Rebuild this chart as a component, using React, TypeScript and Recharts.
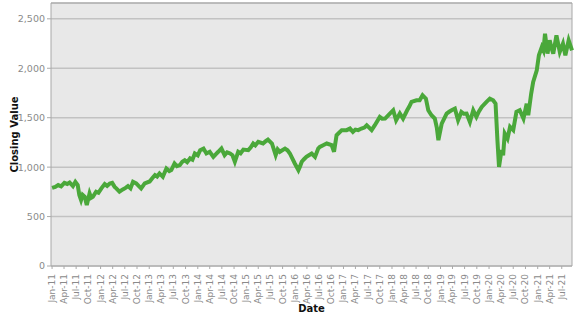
import React from "react"
import { CartesianGrid, Line, LineChart, ReferenceArea, XAxis, YAxis } from "recharts"

// closing values, with their dates
const dates = [
  "2011-01-01", "2011-01-25", "2011-02-16", "2011-03-10", "2011-04-04", "2011-04-25", "2011-05-13", "2011-06-07",
  "2011-06-25", "2011-07-13", "2011-07-25", "2011-08-07", "2011-08-19", "2011-09-04", "2011-09-19", "2011-10-10",
  "2011-10-22", "2011-11-04", "2011-11-28", "2011-12-16", "2012-01-07", "2012-02-01", "2012-02-19", "2012-03-10",
  "2012-03-28", "2012-04-16", "2012-04-28", "2012-05-22", "2012-06-16", "2012-07-07", "2012-07-25", "2012-08-13",
  "2012-09-01", "2012-09-25", "2012-10-13", "2012-11-01", "2012-11-28", "2013-01-04", "2013-01-25", "2013-02-13",
  "2013-03-01", "2013-03-19", "2013-04-13", "2013-05-10", "2013-06-01", "2013-06-16", "2013-07-10", "2013-07-28",
  "2013-08-19", "2013-09-07", "2013-09-25", "2013-10-13", "2013-11-04", "2013-11-22", "2013-12-10", "2014-01-01",
  "2014-01-19", "2014-02-13", "2014-03-07", "2014-04-01", "2014-04-28", "2014-05-16", "2014-06-04", "2014-06-28",
  "2014-07-22", "2014-08-10", "2014-09-01", "2014-09-19", "2014-10-07", "2014-11-01", "2014-11-19", "2014-12-10",
  "2015-01-16", "2015-02-04", "2015-02-22", "2015-03-10", "2015-04-01", "2015-05-07", "2015-05-25", "2015-06-13",
  "2015-07-13", "2015-08-10", "2015-08-25", "2015-09-10", "2015-10-19", "2015-11-07", "2015-11-25", "2015-12-13",
  "2016-01-01", "2016-01-28", "2016-02-10", "2016-02-22", "2016-03-10", "2016-03-28", "2016-04-16", "2016-05-07",
  "2016-06-01", "2016-06-25", "2016-07-07", "2016-08-01", "2016-08-28", "2016-10-04", "2016-10-22", "2016-11-10",
  "2016-12-01", "2016-12-19", "2017-01-25", "2017-02-19", "2017-03-13", "2017-04-01", "2017-04-22", "2017-05-16",
  "2017-06-07", "2017-06-25", "2017-07-13", "2017-08-01", "2017-08-25", "2017-10-01", "2017-10-19", "2017-11-10",
  "2017-12-16", "2018-01-10", "2018-02-01", "2018-03-01", "2018-03-25", "2018-04-25", "2018-05-10", "2018-05-28",
  "2018-07-04", "2018-07-28", "2018-08-19", "2018-09-13", "2018-10-01", "2018-10-25", "2018-11-19", "2018-12-04",
  "2018-12-16", "2019-01-10", "2019-02-16", "2019-03-07", "2019-03-25", "2019-04-19", "2019-05-13", "2019-06-07",
  "2019-06-25", "2019-07-16", "2019-08-10", "2019-09-04", "2019-09-28", "2019-10-16", "2019-11-07", "2019-12-13",
  "2020-01-07", "2020-02-01", "2020-02-19", "2020-03-04", "2020-03-16", "2020-04-04", "2020-04-16", "2020-04-28",
  "2020-05-19", "2020-06-07", "2020-07-01", "2020-07-25", "2020-08-19", "2020-09-16", "2020-10-10", "2020-10-22",
  "2020-11-13", "2020-11-28", "2020-12-25", "2021-01-10", "2021-02-01", "2021-02-13", "2021-02-25", "2021-03-16",
  "2021-04-01", "2021-04-16", "2021-04-28", "2021-05-22", "2021-06-16", "2021-07-10", "2021-07-28", "2021-08-22",
  "2021-09-16",
]

const closing = [
  790, 800, 818, 805, 841, 830, 845, 808,
  851, 818, 717, 667, 720, 700, 616, 734,
  690, 700, 751, 740, 785, 828, 810, 835,
  841, 800, 785, 751, 774, 790, 808, 785,
  851, 835, 810, 785, 835, 855, 890, 919,
  905, 936, 902, 986, 960, 970, 1037, 1010,
  1020, 1055, 1070, 1050, 1088, 1075, 1138, 1120,
  1172, 1188, 1138, 1155, 1104, 1130, 1155, 1188,
  1121, 1150, 1138, 1120, 1054, 1155, 1140, 1178,
  1172, 1200, 1239, 1220, 1256, 1239, 1260, 1279,
  1239, 1121, 1180, 1155, 1188, 1170, 1138, 1088,
  1037, 970, 1010, 1054, 1080, 1104, 1120, 1138,
  1104, 1188, 1205, 1222, 1239, 1222, 1155, 1323,
  1350, 1374, 1374, 1390, 1357, 1380, 1374, 1390,
  1400, 1424, 1400, 1374, 1424, 1508, 1490, 1491,
  1542, 1575, 1474, 1542, 1491, 1575, 1610, 1660,
  1676, 1676, 1727, 1693, 1575, 1525, 1491, 1400,
  1273, 1441, 1542, 1560, 1575, 1592, 1474, 1558,
  1540, 1542, 1457, 1575, 1508, 1560, 1609, 1660,
  1693, 1676, 1642, 1273, 1003, 1172, 1120, 1340,
  1289, 1407, 1374, 1558, 1575, 1491, 1642, 1525,
  1744, 1862, 1980, 2131, 2215, 2180, 2350, 2148,
  2283, 2200, 2148, 2333, 2165, 2249, 2131, 2283,
  2182,
]

const tickLabels = [
  "Jan-11", "Apr-11", "Jul-11", "Oct-11", "Jan-12", "Apr-12", "Jul-12", "Oct-12",
  "Jan-13", "Apr-13", "Jul-13", "Oct-13", "Jan-14", "Apr-14", "Jul-14", "Oct-14",
  "Jan-15", "Apr-15", "Jul-15", "Oct-15", "Jan-16", "Apr-16", "Jul-16", "Oct-16",
  "Jan-17", "Apr-17", "Jul-17", "Oct-17", "Jan-18", "Apr-18", "Jul-18", "Oct-18",
  "Jan-19", "Apr-19", "Jul-19", "Oct-19", "Jan-20", "Apr-20", "Jul-20", "Oct-20",
  "Jan-21", "Apr-21", "Jul-21",
]

const yTicks = [0, 500, 1000, 1500, 2000, 2500]

const monthNames = ["Jan", "Feb", "Mar", "Apr", "May", "Jun", "Jul", "Aug", "Sep", "Oct", "Nov", "Dec"]

const toTime = (d: string) => {
  const [y, m, day] = d.split("-").map(Number)
  return Date.UTC(y, m - 1, day)
}
const labelToTime = (l: string) => {
  const [mon, yy] = l.split("-")
  return Date.UTC(2000 + Number(yy), monthNames.indexOf(mon), 1)
}

const data = dates.map((d, i) => ({ t: toTime(d), value: closing[i] }))
const xTicks = tickLabels.map(labelToTime)
const xMin = Date.UTC(2010, 11, 24)
const xMax = Date.UTC(2021, 8, 16)
const yMax = 2660

const fmtTick = (t: number) => {
  const d = new Date(t)
  return `${monthNames[d.getUTCMonth()]}-${String(d.getUTCFullYear()).slice(2)}`
}

const font = "'DejaVu Sans', Verdana, sans-serif"

function RotatedTick(props: any) {
  const { x, y, payload } = props
  return (
    <text
      x={0}
      y={0}
      transform={`translate(${x + 3},${y + 3}) rotate(-90)`}
      textAnchor="end"
      fill="#8a8a8a"
      fontSize={9}
      fontFamily={font}
    >
      {fmtTick(payload.value)}
    </text>
  )
}

export default function App() {
  return (
    <div style={{ position: "absolute", left: 0, top: 0, background: "#fff" }}>
      <LineChart width={577} height={315} data={data} margin={{ top: 3, right: 5, bottom: 0, left: 0 }}>
        <CartesianGrid vertical={false} fill="#e8e8e8" stroke="#c2c2c2" strokeWidth={1.5} />
        <XAxis
          dataKey="t"
          type="number"
          scale="time"
          domain={[xMin, xMax]}
          ticks={xTicks}
          interval={0}
          height={49}
          axisLine={false}
          tickLine={{ stroke: "#aaa" }}
          tickSize={3}
          tick={<RotatedTick />}
          label={{ value: "Date", position: "insideBottom", offset: 3, fontSize: 10, fontWeight: "bold", fill: "#111", fontFamily: font }}
        />
        <YAxis
          domain={[0, yMax]}
          ticks={yTicks}
          width={51}
          axisLine={false}
          tickLine={{ stroke: "#aaa" }}
          tickSize={4}
          tick={{ fontSize: 9.5, fill: "#8a8a8a", fontFamily: font }}
          tickFormatter={(v: number) => v.toLocaleString("en-US")}
          label={{ value: "Closing Value", angle: -90, position: "insideLeft", offset: 14, fontSize: 10, fontWeight: "bold", fill: "#111", fontFamily: font, style: { textAnchor: "middle" } }}
        />
        <ReferenceArea x1={xMin} x2={xMax} y1={0} y2={yMax} fill="none" stroke="#a8a8a8" strokeWidth={1} />
        <Line
          dataKey="value"
          stroke="#4aa83a"
          strokeWidth={4}
          dot={false}
          strokeLinejoin="miter"
          isAnimationActive={false}
        />
      </LineChart>
    </div>
  )
}
